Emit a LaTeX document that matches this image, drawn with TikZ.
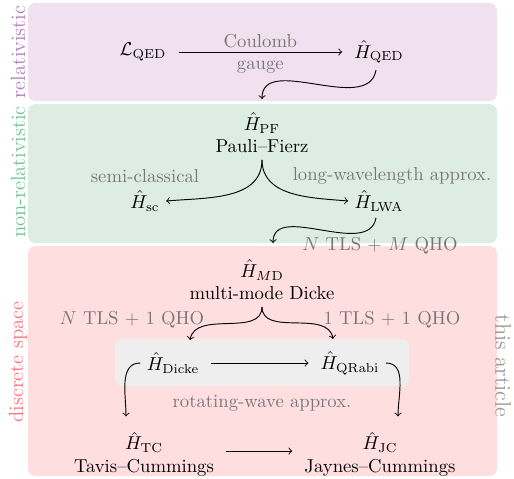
\documentclass[tikz,border=0pt]{standalone}
\usetikzlibrary{calc}
\definecolor{purpfill}{HTML}{F0E0F0}
\definecolor{greenfill}{HTML}{DDEDE3}
\definecolor{redfill}{HTML}{FFDEDF}
\definecolor{grayfill}{HTML}{EEEEEE}
\definecolor{purptxt}{HTML}{B67BC0}
\definecolor{greentxt}{HTML}{6CC593}
\definecolor{redtxt}{HTML}{FF7479}
\definecolor{graytxt}{HTML}{9A9A9A}
\definecolor{labtxt}{HTML}{777777}
\tikzset{
  region/.style={rounded corners=4pt},
  sidelab/.style={font=\fontsize{11}{13}\selectfont},
  ham/.style={align=center},
  lab/.style={text=labtxt},
  arr/.style={->, line width=0.5pt},
}
\begin{document}
\begin{tikzpicture}[x=0.535pt,y=0.535pt]
\useasboundingbox (0,0) rectangle (514,-478);
% regions
\fill[region, purpfill] (28,-3) rectangle (497,-101);
\fill[region, greenfill] (28,-104) rectangle (497,-243);
\fill[region, redfill] (28,-246) rectangle (497,-476);
\fill[region, grayfill] (115,-339) rectangle (409,-386);
% side labels
\node[sidelab, rotate=90, text=purptxt] (s1) at (18,-52) {relativistic};
\node[sidelab, rotate=90, text=greentxt] (s2) at (18,-172) {non-relativistic};
\node[sidelab, rotate=90, text=redtxt] (s3) at (18,-362) {discrete space};
\node[sidelab, rotate=-90, text=graytxt, font=\fontsize{12}{14}\selectfont] (s4) at (503,-366) {this article};
% nodes
\node (LQED) at (143,-52) {$\mathcal{L}_{\mathrm{QED}}$};
\node (HQED) at (379,-52) {$\hat{H}_{\mathrm{QED}}$};
\node[ham] (PF) at (262,-133) {$\hat{H}_{\mathrm{PF}}$\\Pauli--Fierz};
\node (Hsc) at (145,-201) {$\hat{H}_{\mathrm{sc}}$};
\node (HLWA) at (379,-201) {$\hat{H}_{\mathrm{LWA}}$};
\node[ham] (MD) at (262,-280) {$\hat{H}_{M\mathrm{D}}$\\multi-mode Dicke};
\node (Dicke) at (173,-363) {$\hat{H}_{\mathrm{Dicke}}$};
\node (QRabi) at (350,-363) {$\hat{H}_{\mathrm{QRabi}}$};
\node[ham] (TC) at (144,-454) {$\hat{H}_{\mathrm{TC}}$\\Tavis--Cummings};
\node[ham] (JC) at (380,-454) {$\hat{H}_{\mathrm{JC}}$\\Jaynes--Cummings};
% labels
\node[lab] (l1) at (145,-176) {semi-classical};
\node[lab] (l2) at (392,-176) {long-wavelength approx.};
\node[lab] (l3) at (380,-246) {$N$ TLS $+$ $M$ QHO};
\node[lab] (l4) at (132,-320) {$N$ TLS $+$ $1$ QHO};
\node[lab] (l5) at (392,-320) {$1$ TLS $+$ $1$ QHO};
\node[lab] (l6) at (262,-403) {rotating-wave approx.};
% connectors
\draw[arr, shorten <=3pt, shorten >=3pt] (LQED) -- node[lab, above, yshift=-1.5pt] {Coulomb} node[lab, below, yshift=-1.5pt] {gauge} (HQED);
\coordinate (e1) at (262,-99);
\draw[arr] ($(HQED.south)+(-3,0)$) to[out=-100,in=90] (e1);
\draw[arr] (PF.south) to[out=-90,in=5] (Hsc.east);
\draw[arr] (PF.south) to[out=-90,in=175] (HLWA.west);
\coordinate (e2) at (273,-243);
\draw[arr] ($(HLWA.south)+(-3,0)$) to[out=-100,in=90] (e2);
\draw[arr] (MD.south) to[out=-90,in=80] ($(Dicke.north)+(17,6)$);
\draw[arr] (MD.south) to[out=-90,in=100] ($(QRabi.north)+(-17,6)$);
\draw[arr, shorten <=3pt, shorten >=3pt] (Dicke) -- (QRabi);
\draw[arr] (Dicke.west) to[out=180,in=90] ($(TC.north)+(-18,9)$);
\draw[arr] (QRabi.east) to[out=0,in=90] ($(JC.north)+(18,9)$);
\draw[arr, shorten <=3pt, shorten >=3pt] ($(TC.east)+(0,3)$) -- ($(JC.west)+(0,3)$);
\end{tikzpicture}
\end{document}
